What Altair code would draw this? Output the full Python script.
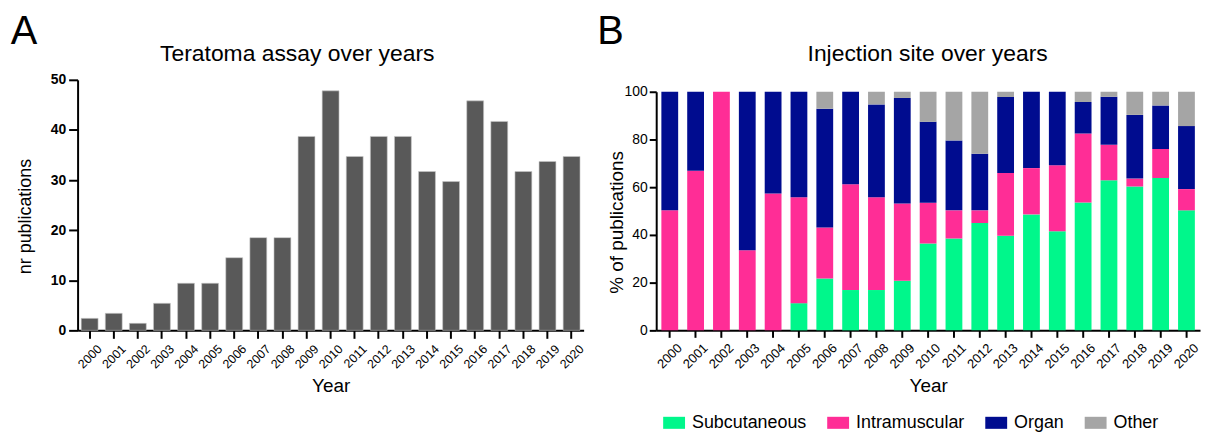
import altair as alt
import pandas as pd

years = ["2000", "2001", "2002", "2003", "2004", "2005", "2006", "2007", "2008", "2009", "2010",
         "2011", "2012", "2013", "2014", "2015", "2016", "2017", "2018", "2019", "2020"]

# Panel A: number of publications
teratoma_counts = [2.4, 3.4, 1.4, 5.4, 9.4, 9.4, 14.5, 18.5, 18.5, 38.7, 47.8,
                   34.7, 38.7, 38.7, 31.7, 29.7, 45.8, 41.7, 31.7, 33.7, 34.7]

# Panel B: % of publications per injection site
sites = ["Subcutaneous", "Intramuscular", "Organ", "Other"]
site_colors = ["#00F78B", "#FF2D96", "#000C8F", "#A5A5A5"]
subcutaneous = [0, 0, 0, 0, 0, 11.4, 21.7, 16.9, 16.9, 20.8, 36.4,
                38.5, 45.0, 39.7, 48.6, 41.5, 53.6, 62.9, 60.3, 63.9, 50.3]
intramuscular = [50.3, 66.9, 100, 33.6, 57.4, 44.4, 21.4, 44.35, 38.9, 32.4, 17.1,
                 11.8, 5.3, 26.3, 19.4, 27.7, 28.9, 14.9, 3.3, 12.1, 8.9]
organ = [49.7, 33.1, 0, 66.4, 42.6, 44.2, 49.8, 38.75, 38.9, 44.2, 33.9,
         29.3, 23.7, 31.8, 32.0, 30.8, 13.2, 20.1, 26.7, 18.2, 26.4]
other = [0, 0, 0, 0, 0, 0, 7.1, 0, 5.3, 2.6, 12.6,
         20.4, 26.0, 2.2, 0, 0, 4.3, 2.1, 9.7, 5.8, 14.4]

panel_letters = ["A", "B"]
panel_titles = ["Teratoma assay over years", "Injection site over years"]

FONT = "Liberation Sans"

df_a = pd.DataFrame({"Year": years, "count": teratoma_counts})

rows = []
for i, y in enumerate(years):
    for k, (name, vals) in enumerate(zip(sites, [subcutaneous, intramuscular, organ, other])):
        rows.append({"Year": y, "site": name, "pct": vals[i], "idx": k})
df_b = pd.DataFrame(rows)

axis_common = dict(domainColor="black", domainWidth=2, tickColor="black", tickWidth=2,
                   labelColor="black", titleColor="black", labelFont=FONT, titleFont=FONT,
                   titleFontWeight="normal", grid=False)


def header(letter, title, letter_x, title_x):
    lt = alt.Chart(pd.DataFrame({"t": [letter]})).mark_text(
        font=FONT, fontSize=40, align="center", baseline="alphabetic", color="black"
    ).encode(text="t:N", x=alt.value(letter_x), y=alt.value(-36))
    tt = alt.Chart(pd.DataFrame({"t": [title]})).mark_text(
        font=FONT, fontSize=23, align="center", baseline="alphabetic", color="black"
    ).encode(text="t:N", x=alt.value(title_x), y=alt.value(-19))
    return lt, tt


# ---------- Panel A ----------
bars_a = alt.Chart(df_a).mark_bar(color="#595959", stroke="#C8C8C8", strokeWidth=0.6).encode(
    x=alt.X("Year:N", sort=years,
            scale=alt.Scale(paddingInner=0.3, paddingOuter=0.15),
            axis=alt.Axis(title="Year", labelAngle=-45, labelAlign="right", labelBaseline="top",
                          labelFontSize=12.5, labelFontWeight=500, labelPadding=4, labelOffset=6,
                          tickSize=8, titleFontSize=19,
                          titleBaseline="alphabetic", titleY=62, **axis_common)),
    y=alt.Y("count:Q", scale=alt.Scale(domain=[0, 50]),
            axis=alt.Axis(title="nr publications", values=[0, 10, 20, 30, 40, 50],
                          labelFontSize=14, labelFontWeight="bold", tickSize=9, labelPadding=3,
                          titleFontSize=18, titleX=-43, titleY=137, **axis_common)),
)
la, ta = header(panel_letters[0], panel_titles[0], -54, 221)
panel_a = alt.layer(bars_a, la, ta).properties(width=509, height=252)

# ---------- Panel B ----------
bars_b = alt.Chart(df_b).mark_bar().encode(
    x=alt.X("Year:N", sort=years,
            scale=alt.Scale(paddingInner=0.35, paddingOuter=0.2),
            axis=alt.Axis(title="Year", labelAngle=-45, labelAlign="right", labelBaseline="top",
                          labelFontSize=13, labelPadding=4, labelOffset=6, tickSize=7, titleFontSize=19,
                          titleBaseline="alphabetic", titleY=62, **axis_common)),
    y=alt.Y("pct:Q", stack="zero", scale=alt.Scale(domain=[0, 100], range=[252, 12]),
            axis=alt.Axis(title="% of publications", values=[0, 20, 40, 60, 80, 100],
                          labelFontSize=14, tickSize=7, labelPadding=2,
                          titleFontSize=19, titleX=-30, titleY=143, **axis_common)),
    color=alt.Color("site:N", scale=alt.Scale(domain=sites, range=site_colors),
                    legend=alt.Legend(title=None, orient="none", legendX=7, legendY=334,
                                      direction="horizontal", labelFont=FONT, labelFontSize=18,
                                      labelColor="black", labelOffset=7, columnPadding=20,
                                      symbolType="M-1,-0.55H1V0.55H-1Z", symbolSize=484,
                                      symbolStrokeWidth=0, padding=0)),
    order=alt.Order("idx:Q", sort="ascending"),
)
lb, tb = header(panel_letters[1], panel_titles[1], -46, 273)
panel_b = alt.layer(bars_b, lb, tb).properties(width=547, height=252).resolve_scale(color="independent")

chart = alt.hconcat(panel_a, panel_b, spacing=73, bounds="flush").resolve_scale(
    color="independent"
).properties(
    padding={"left": 2, "top": 3, "right": 2, "bottom": 0}
).configure_view(stroke=None)

chart.save("out.html", embed_options={"renderer": "svg", "actions": False})
